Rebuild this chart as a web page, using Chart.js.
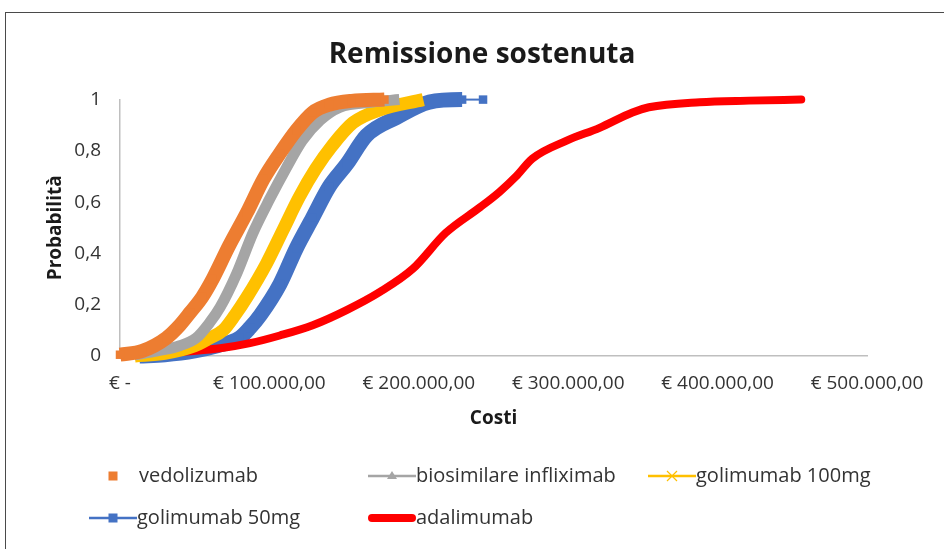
<!DOCTYPE html>
<html>
<head>
<meta charset="utf-8">
<script src="https://cdn.jsdelivr.net/npm/chart.js@4/dist/chart.umd.min.js"></script>
<style>
  body { margin: 0; background: #fff; }
  #wrap { position: relative; width: 944px; height: 549px; overflow: hidden; }
  #frame { position: absolute; left: 5px; top: 12px; width: 1200px; height: 1000px; border: 1px solid #4a4a4a; }
  canvas { position: absolute; left: 0; top: 0; }
</style>
</head>
<body>
<div id="wrap">
  <div id="frame"></div>
  <canvas id="cdfChart" width="944" height="549"></canvas>
</div>
<script>
// series names, same order as the legend
const seriesNames = ['vedolizumab', 'biosimilare infliximab', 'golimumab 100mg', 'golimumab 50mg', 'adalimumab'];

// costs (€) and cumulative probability
const vedolizumabX = [0, 15000, 31000, 40000, 47000, 55000, 62000, 73000, 85000, 96000, 107000, 118000, 129000, 140000, 155000, 177000];
const vedolizumabY = [0.005, 0.02, 0.07, 0.12, 0.17, 0.23, 0.30, 0.43, 0.56, 0.69, 0.79, 0.88, 0.95, 0.98, 0.995, 1.0];

const infliximabX = [10000, 25000, 40000, 51000, 60000, 67000, 78000, 89000, 100000, 111000, 122000, 134000, 147000, 169000, 187000];
const infliximabY = [0.005, 0.02, 0.04, 0.07, 0.13, 0.19, 0.32, 0.48, 0.61, 0.73, 0.84, 0.92, 0.97, 0.99, 1.0];

const golimumab100X = [10000, 30000, 50000, 60000, 69000, 77000, 85000, 98000, 109000, 120000, 131000, 142000, 156000, 174000, 203000];
const golimumab100Y = [0.0, 0.01, 0.04, 0.07, 0.10, 0.16, 0.23, 0.36, 0.49, 0.62, 0.73, 0.82, 0.91, 0.96, 1.0];

const golimumab50X = [13000, 30000, 50000, 65000, 80000, 87000, 94000, 107000, 118000, 129000, 140000, 152000, 165000, 185000, 207000, 229000, 243000];
const golimumab50Y = [0.0, 0.005, 0.02, 0.04, 0.07, 0.11, 0.16, 0.28, 0.42, 0.54, 0.66, 0.75, 0.86, 0.93, 0.99, 1.0, 1.0];

const adalimumabX = [18000, 40000, 67000, 87000, 107000, 129000, 152000, 174000, 196000, 218000, 241000, 254000, 265000, 276000, 299000, 321000, 343000, 354000, 388000, 421000, 456000];
const adalimumabY = [0.0, 0.015, 0.03, 0.05, 0.08, 0.12, 0.18, 0.25, 0.34, 0.48, 0.58, 0.64, 0.70, 0.77, 0.84, 0.89, 0.95, 0.97, 0.99, 0.996, 1.0];

// axis ticks
const xTickValues = [0, 100000, 200000, 300000, 400000, 500000];
const xTickLabels = ['€ -', '€ 100.000,00', '€ 200.000,00', '€ 300.000,00', '€ 400.000,00', '€ 500.000,00'];
const yTickValues = [0, 0.2, 0.4, 0.6, 0.8, 1];
const yTickLabels = ['0', '0,2', '0,4', '0,6', '0,8', '1'];

const textColor = '#333333';
const fontFamily = "'Open Sans', 'DejaVu Sans', sans-serif";

function pairs(xs, ys) {
  return xs.map((x, i) => ({ x: x, y: ys[i] }));
}

// look of each series (colour, band width, legend symbol)
const seriesStyle = [
  { color: '#ED7D31', width: 14, point: 'rect', radius: 6, order: 0, legend: 'square' },
  { color: '#A5A5A5', width: 11, point: false, radius: 0, order: 1, legend: 'triangle' },
  { color: '#FFC000', width: 13, point: false, radius: 0, order: 2, legend: 'cross' },
  { color: '#4472C4', width: 15, point: 'rect', radius: 6, order: 4, legend: 'lineSquare' },
  { color: '#FF0000', width: 8, point: false, radius: 0, order: 3, legend: 'thick' }
];

const seriesData = [
  pairs(vedolizumabX, vedolizumabY),
  pairs(infliximabX, infliximabY),
  pairs(golimumab100X, golimumab100Y),
  pairs(golimumab50X, golimumab50Y),
  pairs(adalimumabX, adalimumabY)
];

const datasets = seriesNames.map((name, i) => {
  const s = seriesStyle[i];
  const ds = {
    label: name,
    data: seriesData[i],
    borderColor: s.color,
    backgroundColor: s.color,
    borderWidth: s.width,
    borderCapStyle: s.legend === 'thick' ? 'round' : 'butt',
    borderJoinStyle: 'round',
    cubicInterpolationMode: 'monotone',
    pointRadius: s.radius,
    pointStyle: s.point || 'circle',
    pointBorderWidth: 0,
    order: s.order,
    clip: false
  };
  if (i === 3) {
    // last blue marker sits apart, joined by a thin line
    ds.segment = { borderWidth: ctx => ctx.p1DataIndex === golimumab50X.length - 1 ? 2 : undefined };
  }
  return ds;
});

// legend laid out in a grid like the original
const legendCols = [89, 368, 648];
const legendRows = [476, 518];
const legendSymbolWidth = 48;

const gridLegend = {
  id: 'gridLegend',
  afterDraw(chart) {
    const ctx = chart.ctx;
    ctx.save();
    ctx.font = '20px ' + fontFamily;
    ctx.textBaseline = 'middle';
    ctx.textAlign = 'left';
    seriesNames.forEach((name, i) => {
      const s = seriesStyle[i];
      const x0 = legendCols[i % 3];
      const y = legendRows[Math.floor(i / 3)];
      const cx = x0 + legendSymbolWidth / 2;
      ctx.strokeStyle = s.color;
      ctx.fillStyle = s.color;
      if (s.legend === 'thick') {
        ctx.lineWidth = 8;
        ctx.lineCap = 'round';
        ctx.beginPath();
        ctx.moveTo(x0 + 4, y);
        ctx.lineTo(x0 + legendSymbolWidth - 4, y);
        ctx.stroke();
      } else if (s.legend !== 'square') {
        ctx.lineWidth = 2.5;
        ctx.lineCap = 'butt';
        ctx.beginPath();
        ctx.moveTo(x0, y);
        ctx.lineTo(x0 + legendSymbolWidth, y);
        ctx.stroke();
      }
      if (s.legend === 'square' || s.legend === 'lineSquare') {
        ctx.fillRect(cx - 4.5, y - 4.5, 9, 9);
      } else if (s.legend === 'triangle') {
        ctx.beginPath();
        ctx.moveTo(cx, y - 5);
        ctx.lineTo(cx + 5, y + 3);
        ctx.lineTo(cx - 5, y + 3);
        ctx.closePath();
        ctx.fill();
      } else if (s.legend === 'cross') {
        ctx.lineWidth = 1.2;
        ctx.beginPath();
        ctx.moveTo(cx - 5, y - 5);
        ctx.lineTo(cx + 5, y + 5);
        ctx.moveTo(cx + 5, y - 5);
        ctx.lineTo(cx - 5, y + 5);
        ctx.stroke();
      }
      ctx.fillStyle = textColor;
      const tx = s.legend === 'square' ? x0 + legendSymbolWidth + 2 : x0 + legendSymbolWidth;
      ctx.fillText(name, tx, y);
    });
    ctx.restore();
  }
};

const ctx = document.getElementById('cdfChart').getContext('2d');
const cdfChart = new Chart(ctx, {
  type: 'line',
  data: { datasets: datasets },
  plugins: [gridLegend],
  options: {
    responsive: false,
    animation: false,
    events: [],
    layout: { padding: { left: 20, right: 0, top: 14, bottom: 110 } },
    plugins: {
      legend: { display: false },
      tooltip: { enabled: false },
      title: {
        display: true,
        text: 'Remissione sostenuta',
        color: '#1a1a1a',
        font: { family: fontFamily, size: 28, weight: 'bold' },
        padding: { top: 24, bottom: 28 }
      }
    },
    scales: {
      x: {
        type: 'linear',
        min: 0,
        max: 500000,
        grid: { display: false, drawTicks: false },
        border: { display: true, color: '#BFBFBF', width: 1.5 },
        afterBuildTicks: scale => { scale.ticks = xTickValues.map(v => ({ value: v })); },
        ticks: {
          autoSkip: false,
          maxRotation: 0,
          padding: 16,
          color: textColor,
          font: { family: fontFamily, size: 19 },
          callback: v => xTickLabels[xTickValues.indexOf(v)]
        },
        title: {
          display: true,
          text: 'Costi',
          color: '#1a1a1a',
          font: { family: fontFamily, size: 19, weight: 'bold' },
          padding: { top: 4, bottom: 9 }
        },
        afterFit: scale => { scale.height = 83; }
      },
      y: {
        min: 0,
        max: 1,
        grid: { display: false, drawTicks: false },
        border: { display: true, color: '#BFBFBF', width: 1.5 },
        afterBuildTicks: scale => { scale.ticks = yTickValues.map(v => ({ value: v })); },
        ticks: {
          padding: 19,
          color: textColor,
          font: { family: fontFamily, size: 19 },
          callback: v => yTickLabels[yTickValues.indexOf(v)]
        },
        title: {
          display: true,
          text: 'Probabilità',
          color: '#1a1a1a',
          font: { family: fontFamily, size: 19, weight: 'bold' },
          padding: { top: 24, bottom: 0 }
        },
        afterFit: scale => { scale.width = 100; }
      },
      // empty right-hand spacer so the plot ends where the original does
      spacer: {
        position: 'right',
        min: 0,
        max: 1,
        grid: { display: false, drawTicks: false },
        border: { display: false },
        ticks: { display: false },
        afterFit: scale => { scale.width = 77; }
      }
    }
  }
});
</script>
</body>
</html>
